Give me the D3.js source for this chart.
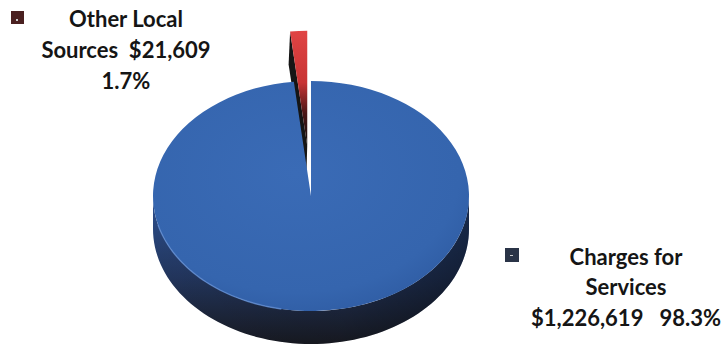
<!DOCTYPE html>
<html><head><meta charset="utf-8">
<script src="https://cdn.jsdelivr.net/npm/d3@7"></script>
<style>html,body{margin:0;padding:0;background:#fff;}svg{display:block;}</style>
</head><body>
<svg id="c" width="725" height="345"></svg>
<script>
const categories = ["Other Local Sources", "Charges for Services"];
const values = [21609, 1226619];
const percents = ["1.7%", "98.3%"];
const amounts = ["$21,609", "$1,226,619"];
const colors = ["#d83a3a", "#3767b1"];
const legendColors = ["#4a2020", "#2a3447"];

const svg = d3.select("#c");
const defs = svg.append("defs");

const cx = 311, cy = 196, rx = 158, ry = 115, depth = 33;
const k = ry / rx;
const total = d3.sum(values);
const aRed = values[0] / total * 2 * Math.PI;

const pie = d3.pie().sort(null).value(d => d).startAngle(-aRed).endAngle(2 * Math.PI - aRed);
const arcs = pie(values);
const arc = d3.arc().innerRadius(0).outerRadius(rx);

function P(a, ox, oy, dz) { return [cx + ox + rx * Math.sin(a), cy + oy - ry * Math.cos(a) + (dz || 0)]; }

// gradients
const gSide = defs.append("linearGradient").attr("id", "gSide").attr("x1", 0).attr("y1", 0).attr("x2", 0).attr("y2", 1);
gSide.append("stop").attr("offset", "0%").attr("stop-color", "#2c5090");
gSide.append("stop").attr("offset", "55%").attr("stop-color", "#22355c");
gSide.append("stop").attr("offset", "100%").attr("stop-color", "#181a22");
const gSideH = defs.append("linearGradient").attr("id", "gSideH").attr("x1", 0).attr("y1", 0).attr("x2", 1).attr("y2", 0);
gSideH.append("stop").attr("offset", "0%").attr("stop-color", "#000").attr("stop-opacity", 0);
gSideH.append("stop").attr("offset", "60%").attr("stop-color", "#000").attr("stop-opacity", 0.1);
gSideH.append("stop").attr("offset", "100%").attr("stop-color", "#000").attr("stop-opacity", 0.45);
const gRed = defs.append("linearGradient").attr("id", "gRed").attr("x1", 0).attr("y1", 0).attr("x2", 0).attr("y2", 1);
gRed.append("stop").attr("offset", "0%").attr("stop-color", "#e04444");
gRed.append("stop").attr("offset", "45%").attr("stop-color", "#c83434");
gRed.append("stop").attr("offset", "72%").attr("stop-color", "#4a1616");
gRed.append("stop").attr("offset", "100%").attr("stop-color", "#101010");
const gTop = defs.append("radialGradient").attr("id", "gTop").attr("cx", "45%").attr("cy", "40%").attr("r", "65%");
gTop.append("stop").attr("offset", "0%").attr("stop-color", "#3a6bb6");
gTop.append("stop").attr("offset", "80%").attr("stop-color", "#3565ae");
gTop.append("stop").attr("offset", "100%").attr("stop-color", "#2f5ca3");

// exploded red slice
const r = arcs[0];
const mid = (r.startAngle + r.endAngle) / 2;
const ex = 69;
const ox = ex * Math.sin(mid), oy = -ex * Math.cos(mid) * k;
const tip = [cx + ox, cy + oy];
const outer = P(r.startAngle, ox, oy);
svg.append("path")
  .attr("d", `M${tip[0]},${tip[1]}L${outer[0]},${outer[1]}L${outer[0] - 1.5},${outer[1] + depth}L${tip[0] - 1},${tip[1] + depth}Z`)
  .attr("fill", "#151515");
svg.append("path")
  .attr("d", arc(r))
  .attr("transform", `translate(${cx + ox},${cy + oy}) scale(1,${k})`)
  .attr("fill", "url(#gRed)");

// blue slice side wall (front half)
const b = arcs[1];
const a0 = Math.max(b.startAngle, Math.PI / 2), a1 = Math.min(b.endAngle, 3 * Math.PI / 2);
const N = 80;
const topPts = d3.range(N + 1).map(i => P(a0 + (a1 - a0) * i / N, 0, 0));
const botPts = topPts.slice().reverse().map(p => [p[0], p[1] + depth]);
const sidePath = "M" + topPts.concat(botPts).map(p => p.join(",")).join("L") + "Z";
svg.append("path").attr("d", sidePath).attr("fill", "url(#gSide)");
svg.append("path").attr("d", sidePath).attr("fill", "url(#gSideH)");

// blue top face
svg.append("path")
  .attr("d", arc(b))
  .attr("transform", `translate(${cx},${cy}) scale(1,${k})`)
  .attr("fill", "url(#gTop)");
const hl = d3.range(41).map(i => P(Math.PI * 1.06 + Math.PI * 0.36 * i / 40, 0, 0));
svg.append("path").attr("d", "M" + hl.map(p => p.join(",")).join("L"))
  .attr("fill", "none").attr("stroke", "#5f8bd0").attr("stroke-width", 1.4).attr("opacity", 0.8);

// labels
const font = "Lato, 'Open Sans', sans-serif";
function lines(x, ys, texts) {
  const t = svg.append("text").attr("font-family", font).attr("font-weight", 700)
    .attr("font-size", 22).attr("fill", "#151515").attr("text-anchor", "middle");
  texts.forEach((s, i) => t.append("tspan").attr("x", x).attr("y", ys[i]).attr("xml:space", "preserve").text(s));
}
svg.append("rect").attr("x", 11).attr("y", 11).attr("width", 13).attr("height", 13).attr("fill", legendColors[0]);
svg.append("rect").attr("x", 16).attr("y", 19).attr("width", 2).attr("height", 2).attr("fill", "#ccc");
lines(126, [27, 58, 89], ["Other Local", "Sources  " + amounts[0], percents[0]]);

svg.append("rect").attr("x", 505).attr("y", 248).attr("width", 14).attr("height", 14).attr("fill", legendColors[1]);
svg.append("rect").attr("x", 510).attr("y", 255).attr("width", 3).attr("height", 1).attr("fill", "#ccc");
lines(626, [265, 295, 326], ["Charges for", "Services", amounts[1] + "   " + percents[1]]);
</script>
</body></html>
